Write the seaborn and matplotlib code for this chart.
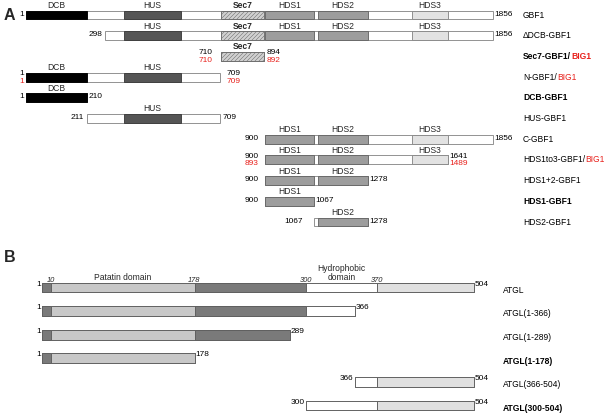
import numpy as np
import matplotlib
matplotlib.use("Agg")
import matplotlib.pyplot as plt
import seaborn as sns

# ---------------- data: panel A (GBF1 constructs) ----------------
gbf1_names = ["GBF1", "\u0394DCB-GBF1", "Sec7-GBF1/", "N-GBF1/", "DCB-GBF1", "HUS-GBF1",
              "C-GBF1", "HDS1to3-GBF1/", "HDS1+2-GBF1", "HDS1-GBF1", "HDS2-GBF1"]
gbf1_red_suffix = ["", "", "BIG1", "BIG1", "", "", "", "BIG1", "", "", ""]
gbf1_bold = [False, False, True, False, True, False, False, False, False, True, False]
gbf1_start = [1, 298, 710, 1, 1, 211, 900, 900, 900, 900, 1067]
gbf1_end = [1856, 1856, 894, 709, 210, 709, 1856, 1641, 1278, 1067, 1278]
gbf1_red_start = [None, None, 710, 1, None, None, None, 893, None, None, None]
gbf1_red_end = [None, None, 892, 709, None, None, None, 1489, None, None, None]

gbf1_domain_names = ["DCB", "HUS", "Sec7", "HDS1", "HDS2", "HDS3"]
gbf1_domain_start = [1, 381, 710, 900, 1080, 1490]
gbf1_domain_end = [210, 560, 894, 1067, 1278, 1641]

# ---------------- data: panel B (ATGL constructs) ----------------
atgl_names = ["ATGL", "ATGL(1-366)", "ATGL(1-289)", "ATGL(1-178)", "ATGL(366-504)", "ATGL(300-504)"]
atgl_bold = [False, False, False, True, False, True]
atgl_start = [1, 1, 1, 1, 366, 300]
atgl_end = [504, 366, 289, 178, 504, 504]
atgl_seg_start = [1, 10, 178, 300, 370]
atgl_seg_end = [10, 178, 300, 370, 504]
atgl_boundaries = [10, 178, 300, 370]

# ---------------- styles / layout ----------------
W, H, DPI = 605, 415, 72
FONT = ["Liberation Sans", "DejaVu Sans"]
OUTLINE = "#8a8a8a"
LW = 0.9
RED = "#e8211c"
FS = 8.5

domain_style = {
    "DCB": dict(color="#000000", edgecolor="#000000", hatch=None),
    "HUS": dict(color="#555555", edgecolor="#3c3c3c", hatch=None),
    "Sec7": dict(color="#d0d0d0", edgecolor="#6a6a6a", hatch="//////"),
    "HDS1": dict(color="#9d9d9d", edgecolor="#666666", hatch=None),
    "HDS2": dict(color="#9d9d9d", edgecolor="#666666", hatch=None),
    "HDS3": dict(color="#e2e2e2", edgecolor="#888888", hatch=None),
}
atgl_seg_colors = ["#7a7a7a", "#c8c8c8", "#7a7a7a", "#ffffff", "#e0e0e0"]
ATGL_EDGE = "#5e5e5e"

# schematic (non-linear) residue -> pixel scales of the two diagrams
A_res = [-1000, 1, 210, 298, 381, 560, 709, 710, 894, 900, 1067, 1080, 1278, 1490, 1641, 1856, 3000]
A_px = [-264, 26, 87, 105, 124.5, 181, 220.5, 221, 264.5, 265.5, 314, 318, 368, 412, 448, 493, 733]
B_res = [-1000, 1, 10, 178, 289, 300, 366, 370, 504, 2000]
B_px = [-818, 42, 50.7, 194.5, 290, 306, 355, 377, 474, 1566]

A_row0, A_step, A_h = 15.0, 20.7, 0.43
B_row0, B_step, B_h = 287.5, 23.6, 0.42
A_start_gap = [2, 3, 8, 2, 2, 3, 7, 7, 7, 7, 11]
A_end_gap = [1.5, 1.5, 2.5, 6, 2, 2, 1.5, 1.5, 1.5, 1.5, 1.5]

sns.set_theme(style="white")
plt.rcParams["font.family"] = FONT
plt.rcParams["hatch.linewidth"] = 0.5

fig = plt.figure(figsize=(W / DPI, H / DPI), dpi=DPI)
fig.patch.set_facecolor("white")


def make_axes(res, px, row0, step):
    ax = fig.add_axes([0, 0, 1, 1])
    ax.patch.set_alpha(0)
    fwd = lambda r: np.interp(r, res, px)
    inv = lambda p: np.interp(p, px, res)
    ax.set_xscale("function", functions=(fwd, inv))
    ax.set_xlim(inv(0), inv(W))
    ax.set_ylim((H - row0) / step, -row0 / step)
    sns.despine(ax=ax, left=True, bottom=True)
    ax.set_axis_off()
    return ax, fwd, inv


axA, fA, iA = make_axes(A_res, A_px, A_row0, A_step)
axB, fB, iB = make_axes(B_res, B_px, B_row0, B_step)


def num(ax, text, x, y, dx, dy, ha, color="black", size=8.2, **kw):
    ax.annotate(text, xy=(x, y), xytext=(dx, dy), textcoords="offset points",
                ha=ha, va="center", fontsize=size, color=color, **kw)


def name_label(ax, xfrac, y, text, suffix, bold):
    w = "bold" if bold else "normal"
    t = ax.annotate(text, xy=(xfrac, y), xycoords=("axes fraction", "data"),
                    ha="left", va="center", fontsize=FS, fontweight=w, color="black")
    if suffix:
        ax.annotate(suffix, xy=(1, 0), xycoords=t, ha="left", va="bottom",
                    fontsize=FS, fontweight=w, color=RED)


# ---------------- panel A ----------------
for i, name in enumerate(gbf1_names):
    s, e = gbf1_start[i], gbf1_end[i]
    axA.barh(i, e - s, left=s, height=A_h, color="white", edgecolor=OUTLINE, linewidth=LW)
    for dn, ds, de in zip(gbf1_domain_names, gbf1_domain_start, gbf1_domain_end):
        a, b = max(ds, s), min(de, e)
        if b - a <= 0:
            continue
        st = domain_style[dn]
        axA.barh(i, b - a, left=a, height=A_h, color=st["color"], edgecolor=st["edgecolor"],
                 linewidth=LW, hatch=st["hatch"])
        xc = iA((fA(a) + fA(b)) / 2)
        axA.annotate(dn, xy=(xc, i - A_h / 2), xytext=(0, 0.6), textcoords="offset points",
                     ha="center", va="bottom", fontsize=FS,
                     fontweight="bold" if dn == "Sec7" else "normal")
    # residue numbers
    if gbf1_red_start[i] is None:
        num(axA, str(s), s, i, -A_start_gap[i], 1, "right")
    else:
        num(axA, str(s), s, i, -A_start_gap[i], 3.5, "right")
        num(axA, str(gbf1_red_start[i]), s, i, -A_start_gap[i], -4, "right", color=RED)
    if gbf1_red_end[i] is None:
        num(axA, str(e), e, i, A_end_gap[i], 1, "left")
    else:
        num(axA, str(e), e, i, A_end_gap[i], 3.5, "left")
        num(axA, str(gbf1_red_end[i]), e, i, A_end_gap[i], -4, "left", color=RED)
    name_label(axA, 523 / W, i, name, gbf1_red_suffix[i], gbf1_bold[i])

# ---------------- panel B ----------------
for i, name in enumerate(atgl_names):
    s, e = atgl_start[i], atgl_end[i]
    axB.barh(i, e - s, left=s, height=B_h, color="white", edgecolor=ATGL_EDGE, linewidth=LW)
    for ds, de, c in zip(atgl_seg_start, atgl_seg_end, atgl_seg_colors):
        a, b = max(ds, s), min(de, e)
        if b - a <= 0:
            continue
        axB.barh(i, b - a, left=a, height=B_h, color=c, edgecolor=ATGL_EDGE, linewidth=LW)
    num(axB, str(s), s, i, -1.5, 3.5, "right")
    num(axB, str(e), e, i, 1.0, 3.5, "left")
    name_label(axB, 503 / W, i + 0.12, name, "", atgl_bold[i])

# boundary residue numbers and domain names on full-length ATGL
for bnd in atgl_boundaries:
    axB.annotate(str(bnd), xy=(bnd, -B_h / 2), xytext=(0, -1.2), textcoords="offset points",
                 ha="center", va="bottom", fontsize=7.5, fontstyle="italic")
pc = iB((fB(10) + fB(178)) / 2)
axB.annotate("Patatin domain", xy=(pc, -B_h / 2), xytext=(0, 0.3), textcoords="offset points",
             ha="center", va="bottom", fontsize=FS)
hc = iB((fB(300) + fB(370)) / 2)
axB.annotate("Hydrophobic\ndomain", xy=(hc, -B_h / 2), xytext=(0, 0.3), textcoords="offset points",
             ha="center", va="bottom", fontsize=FS, linespacing=1.1)

# panel letters
fig.text(4 / W, 1 - 15 / H, "A", fontsize=16, fontweight="bold", va="center", ha="left")
fig.text(4 / W, 1 - 257 / H, "B", fontsize=16, fontweight="bold", va="center", ha="left")

fig.savefig("out.png", dpi=DPI, facecolor="white")
